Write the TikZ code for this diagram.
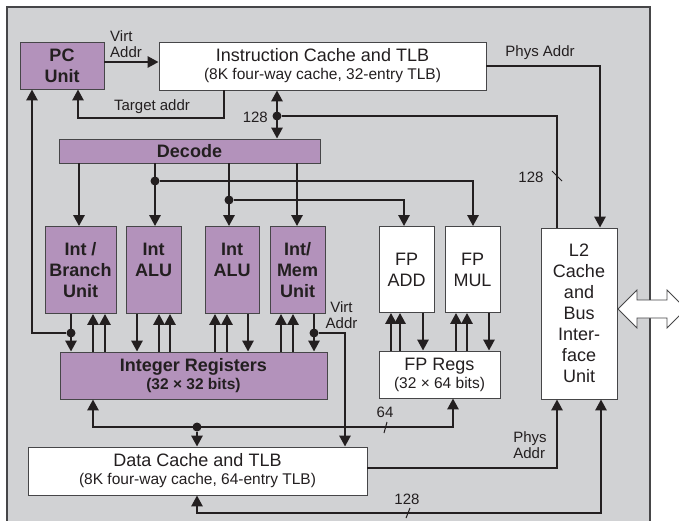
\documentclass[tikz,border=0pt]{standalone}
\usepackage{fontspec}
\setmainfont{Liberation Sans}
\usepackage{xcolor}
\usetikzlibrary{arrows.meta}
\definecolor{chip}{RGB}{209,210,212}
\definecolor{unitfill}{RGB}{179,146,187}
\definecolor{ink}{RGB}{35,31,32}
\definecolor{rim}{RGB}{70,70,72}
\newcommand{\mainsz}{\fontsize{18}{21}\selectfont}
\newcommand{\subsz}{\fontsize{15.5}{18}\selectfont}
\newcommand{\lblsz}{\fontsize{15}{16}\selectfont}

\tikzset{
  blk/.style={draw=rim, line width=0.8pt, inner sep=0pt, align=center, text=ink},
  unitbox/.style={blk, fill=unitfill, font=\mainsz\bfseries},
  cachebox/.style={blk, fill=white, font=\mainsz},
  unittxt/.style={inner sep=0pt, align=center, text=ink, font=\mainsz\bfseries},
  bus/.style={draw=ink, line width=2.6pt},
  arr/.style={bus, -{Triangle[length=11pt,width=11pt]}},
  barr/.style={bus, {Triangle[length=11pt,width=11pt]}-{Triangle[length=11pt,width=11pt]}},
  jn/.style={circle, fill=ink, inner sep=0pt, minimum size=9pt},
  lbl/.style={inner sep=0pt, align=center, text=ink, font=\lblsz},
  slash/.style={draw=ink, line width=1pt},
}

\begin{document}
\begin{tikzpicture}[x=1pt,y=-1pt]
  \useasboundingbox (0,0) rectangle (679,520);
  \clip (0,0) rectangle (679,520);
  % chip outline
  \fill[chip] (7,7) rectangle (650,530);
  \draw[rim, line width=1.3pt] (7,530) -- (7,7) -- (650,7) -- (650,530);

  % blocks
  \node[unitbox, minimum width=84pt, minimum height=47pt] (pc) at (62,65.5) {PC\\Unit};
  \node[cachebox, minimum width=327pt, minimum height=48pt] (ic) at (322.5,66)
    {Instruction Cache and TLB\\[-3pt]{\subsz (8K four-way cache, 32-entry TLB)}};
  \node[unitbox, minimum width=261pt, minimum height=24pt] (decode) at (189.5,151) {Decode};
  \node[unitbox, minimum width=71pt, minimum height=87pt] (ibr) at (80.5,270) {Int /\\Branch\\Unit};
  \node[unitbox, minimum width=55pt, minimum height=87pt] (alu1) at (153.5,270) {};
  \node[unittxt] (alu1txt) at ([yshift=10pt]alu1.center) {Int\\ALU};
  \node[unitbox, minimum width=54pt, minimum height=87pt] (alu2) at (232,270) {};
  \node[unittxt] (alu2txt) at ([yshift=10pt]alu2.center) {Int\\ALU};
  \node[unitbox, minimum width=55pt, minimum height=87pt] (imem) at (297.5,270) {Int/\\Mem\\Unit};
  \node[cachebox, minimum width=55pt, minimum height=86pt] (fpadd) at (406.5,269.5) {FP\\ADD};
  \node[cachebox, minimum width=55pt, minimum height=86pt] (fpmul) at (472.5,269.5) {FP\\MUL};
  \node[cachebox, minimum width=76pt, minimum height=171pt] (l2) at (579,313.5)
    {L2\\Cache\\and\\Bus\\Inter-\\face\\Unit};
  \node[unitbox, minimum width=267pt, minimum height=47pt] (ireg) at (193.5,375.5)
    {Integer Registers\\[-3pt]{\subsz (32 × 32 bits)}};
  \node[cachebox, minimum width=121pt, minimum height=47pt] (fpreg) at (439.5,374.5)
    {FP Regs\\[-3pt]{\subsz (32 × 64 bits)}};
  \node[cachebox, minimum width=339pt, minimum height=48pt] (dc) at (197.5,471)
    {Data Cache and TLB\\[-3pt]{\subsz (8K four-way cache, 64-entry TLB)}};

  % fetch
  \draw[arr] ([yshift=3.5pt]pc.east) -- ([yshift=3.5pt]pc.east -| ic.west);
  \node[lbl, align=left, anchor=south west] (va1) at (110,58) {Virt\\Addr};
  \coordinate (ta) at (224,118);
  \coordinate (tb) at (78,118);
  \draw[arr] (ic.south -| ta) -- (ta) -- (tb) -- (tb |- pc.south);
  \node[lbl] (tal) at (152,107) {Target addr};
  \node[jn] (jb) at (71,333) {};
  \coordinate (fb) at (32,333);
  \draw[arr] (jb) -- (fb) -- (fb |- pc.south);

  % instruction bus
  \node[jn] (j128) at (277,116) {};
  \draw[barr] (ic.south -| j128) -- (decode.north -| j128);
  \node[lbl, anchor=east] (n128a) at (268,117) {128};
  \coordinate (l2a) at (557,116);
  \draw[bus] (j128) -- (l2a) -- (l2a |- l2.north);
  \draw[slash] (552,171) -- (562,181);
  \node[lbl] (n128b) at (531,177) {128};
  \coordinate (pa) at (600,66);
  \draw[arr] (ic.east) -- (pa) -- (pa |- l2.north);
  \node[lbl] (pal) at (540,53) {Phys Addr};

  % issue from decode
  \draw[arr] (79,0 |- decode.south) -- (79,0 |- ibr.north);
  \node[jn] (jd1) at (155,181) {};
  \draw[arr] (155,0 |- decode.south) -- (155,0 |- alu1.north);
  \coordinate (fm) at (473,181);
  \draw[arr] (jd1) -- (fm) -- (fm |- fpmul.north);
  \node[jn] (jd2) at (229,200) {};
  \draw[arr] (229,0 |- decode.south) -- (229,0 |- alu2.north);
  \coordinate (fa) at (404,200);
  \draw[arr] (jd2) -- (fa) -- (fa |- fpadd.north);
  \draw[arr] (297,0 |- decode.south) -- (297,0 |- imem.north);

  % register ports
  \foreach \x in {93,105,159,170,215,227,281,293}
    \draw[arr] (\x,0 |- ireg.north) -- (\x,0 |- ibr.south);
  \foreach \x in {71,137,248,314}
    \draw[arr] (\x,0 |- ibr.south) -- (\x,0 |- ireg.north);
  \foreach \x in {391,400,456,467}
    \draw[arr] (\x,0 |- fpreg.north) -- (\x,0 |- fpadd.south);
  \foreach \x in {423,489}
    \draw[arr] (\x,0 |- fpadd.south) -- (\x,0 |- fpreg.north);

  % load/store
  \node[jn] (jm) at (314,333) {};
  \coordinate (vm) at (345,333);
  \draw[arr] (jm) -- (vm) -- (vm |- dc.north);
  \node[lbl] (va2) at (341.5,315) {Virt\\Addr};
  \node[jn] (jr) at (197,427) {};
  \coordinate (rl) at (93,427);
  \coordinate (rr) at (453,427);
  \draw[barr] (rl |- ireg.south) -- (rl) -- (rr) -- (rr |- fpreg.south);
  \draw[arr] (jr) -- (jr |- dc.north);
  \node[lbl] (n64) at (385,412) {64};
  \draw[slash] (384,433) -- (387,422);

  % data cache to L2
  \coordinate (dp) at (557,468);
  \draw[arr] (dc.east |- dp) -- (dp) -- (dp |- l2.south);
  \node[lbl, align=left] (pal2) at (530,445) {Phys\\Addr};
  \coordinate (db) at (601,513);
  \draw[barr] (jr |- dc.south) -- (jr |- db) -- (db) -- (db |- l2.south);
  \node[lbl] (n128c) at (407,499) {128};
  \draw[slash] (406,518) -- (410,508);

  % system bus
  \draw[rim, fill=white, line width=0.8pt] (618,309) -- (637,290) -- (637,300) -- (667,300)
    -- (667,290) -- (686,309) -- (667,328) -- (667,318) -- (637,318) -- (637,328) -- cycle;
\end{tikzpicture}
\end{document}
